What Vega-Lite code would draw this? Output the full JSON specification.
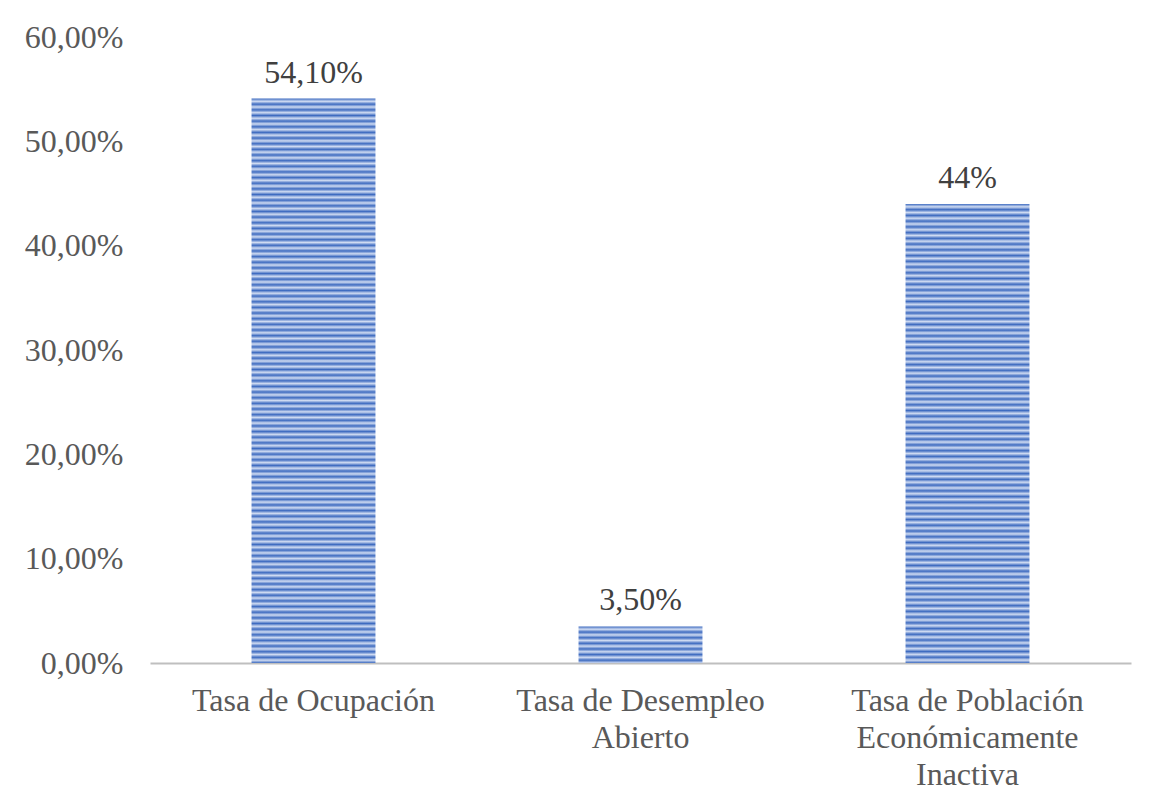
{
  "$schema": "https://vega.github.io/schema/vega-lite/v6.json",
  "autosize": "none",
  "width": 981,
  "height": 626,
  "padding": {"left": 150, "top": 37, "right": 18, "bottom": 137},
  "background": "white",
  "config": {"view": {"stroke": null}, "font": "Liberation Serif"},
  "data": {
    "values": [
      {"cat": "Tasa de Ocupación", "value": 0.541, "label": "54,10%"},
      {"cat": "Tasa de Desempleo Abierto", "value": 0.035, "label": "3,50%"},
      {"cat": "Tasa de Población Económicamente Inactiva", "value": 0.44, "label": "44%"}
    ]
  },
  "encoding": {
    "x": {
      "field": "cat",
      "type": "nominal",
      "sort": null,
      "scale": {"paddingInner": 0.621, "paddingOuter": 0.3105},
      "axis": {
        "title": null,
        "labelAngle": 0,
        "ticks": false,
        "domainColor": "#bfbfbf",
        "domainWidth": 2,
        "labelPadding": 22,
        "labelFont": "Liberation Serif",
        "labelFontSize": 32,
        "labelColor": "#595959",
        "labelLineHeight": 37,
        "labelLimit": 400,
        "labelExpr": "datum.value == 'Tasa de Desempleo Abierto' ? ['Tasa de Desempleo', 'Abierto'] : datum.value == 'Tasa de Población Económicamente Inactiva' ? ['Tasa de Población', 'Económicamente', 'Inactiva'] : datum.label"
      }
    },
    "y": {
      "field": "value",
      "type": "quantitative",
      "scale": {"domain": [0, 0.6], "nice": false},
      "axis": {
        "title": null,
        "domain": false,
        "ticks": false,
        "grid": false,
        "values": [0, 0.1, 0.2, 0.3, 0.4, 0.5, 0.6],
        "labelPadding": 27,
        "labelFont": "Liberation Serif",
        "labelFontSize": 32,
        "labelColor": "#595959",
        "labelExpr": "replace(format(datum.value, '.2%'), '.', ',')"
      }
    }
  },
  "layer": [
    {
      "transform": [{"filter": "datum.cat == 'Tasa de Ocupación'"}],
      "mark": {
        "type": "bar",
        "color": {
          "gradient": "linear", "x1": 0, "y1": 0, "x2": 0, "y2": 1,
          "stops": [
            {"offset":0,"color":"#3e6bc0"},{"offset":0.005,"color":"#cfdbf2"},{"offset":0.01,"color":"#3e6bc0"},{"offset":0.015,"color":"#cfdbf2"},{"offset":0.02,"color":"#3e6bc0"},{"offset":0.025,"color":"#cfdbf2"},{"offset":0.03,"color":"#3e6bc0"},{"offset":0.035,"color":"#cfdbf2"},{"offset":0.04,"color":"#3e6bc0"},{"offset":0.045,"color":"#cfdbf2"},
            {"offset":0.05,"color":"#3e6bc0"},{"offset":0.055,"color":"#cfdbf2"},{"offset":0.06,"color":"#3e6bc0"},{"offset":0.065,"color":"#cfdbf2"},{"offset":0.07,"color":"#3e6bc0"},{"offset":0.075,"color":"#cfdbf2"},{"offset":0.08,"color":"#3e6bc0"},{"offset":0.085,"color":"#cfdbf2"},{"offset":0.09,"color":"#3e6bc0"},{"offset":0.095,"color":"#cfdbf2"},
            {"offset":0.1,"color":"#3e6bc0"},{"offset":0.105,"color":"#cfdbf2"},{"offset":0.11,"color":"#3e6bc0"},{"offset":0.115,"color":"#cfdbf2"},{"offset":0.12,"color":"#3e6bc0"},{"offset":0.125,"color":"#cfdbf2"},{"offset":0.13,"color":"#3e6bc0"},{"offset":0.135,"color":"#cfdbf2"},{"offset":0.14,"color":"#3e6bc0"},{"offset":0.145,"color":"#cfdbf2"},
            {"offset":0.15,"color":"#3e6bc0"},{"offset":0.155,"color":"#cfdbf2"},{"offset":0.16,"color":"#3e6bc0"},{"offset":0.165,"color":"#cfdbf2"},{"offset":0.17,"color":"#3e6bc0"},{"offset":0.175,"color":"#cfdbf2"},{"offset":0.18,"color":"#3e6bc0"},{"offset":0.185,"color":"#cfdbf2"},{"offset":0.19,"color":"#3e6bc0"},{"offset":0.195,"color":"#cfdbf2"},
            {"offset":0.2,"color":"#3e6bc0"},{"offset":0.205,"color":"#cfdbf2"},{"offset":0.21,"color":"#3e6bc0"},{"offset":0.215,"color":"#cfdbf2"},{"offset":0.22,"color":"#3e6bc0"},{"offset":0.225,"color":"#cfdbf2"},{"offset":0.23,"color":"#3e6bc0"},{"offset":0.235,"color":"#cfdbf2"},{"offset":0.24,"color":"#3e6bc0"},{"offset":0.245,"color":"#cfdbf2"},
            {"offset":0.25,"color":"#3e6bc0"},{"offset":0.255,"color":"#cfdbf2"},{"offset":0.26,"color":"#3e6bc0"},{"offset":0.265,"color":"#cfdbf2"},{"offset":0.27,"color":"#3e6bc0"},{"offset":0.275,"color":"#cfdbf2"},{"offset":0.28,"color":"#3e6bc0"},{"offset":0.285,"color":"#cfdbf2"},{"offset":0.29,"color":"#3e6bc0"},{"offset":0.295,"color":"#cfdbf2"},
            {"offset":0.3,"color":"#3e6bc0"},{"offset":0.305,"color":"#cfdbf2"},{"offset":0.31,"color":"#3e6bc0"},{"offset":0.315,"color":"#cfdbf2"},{"offset":0.32,"color":"#3e6bc0"},{"offset":0.325,"color":"#cfdbf2"},{"offset":0.33,"color":"#3e6bc0"},{"offset":0.335,"color":"#cfdbf2"},{"offset":0.34,"color":"#3e6bc0"},{"offset":0.345,"color":"#cfdbf2"},
            {"offset":0.35,"color":"#3e6bc0"},{"offset":0.355,"color":"#cfdbf2"},{"offset":0.36,"color":"#3e6bc0"},{"offset":0.365,"color":"#cfdbf2"},{"offset":0.37,"color":"#3e6bc0"},{"offset":0.375,"color":"#cfdbf2"},{"offset":0.38,"color":"#3e6bc0"},{"offset":0.385,"color":"#cfdbf2"},{"offset":0.39,"color":"#3e6bc0"},{"offset":0.395,"color":"#cfdbf2"},
            {"offset":0.4,"color":"#3e6bc0"},{"offset":0.405,"color":"#cfdbf2"},{"offset":0.41,"color":"#3e6bc0"},{"offset":0.415,"color":"#cfdbf2"},{"offset":0.42,"color":"#3e6bc0"},{"offset":0.425,"color":"#cfdbf2"},{"offset":0.43,"color":"#3e6bc0"},{"offset":0.435,"color":"#cfdbf2"},{"offset":0.44,"color":"#3e6bc0"},{"offset":0.445,"color":"#cfdbf2"},
            {"offset":0.45,"color":"#3e6bc0"},{"offset":0.455,"color":"#cfdbf2"},{"offset":0.46,"color":"#3e6bc0"},{"offset":0.465,"color":"#cfdbf2"},{"offset":0.47,"color":"#3e6bc0"},{"offset":0.475,"color":"#cfdbf2"},{"offset":0.48,"color":"#3e6bc0"},{"offset":0.485,"color":"#cfdbf2"},{"offset":0.49,"color":"#3e6bc0"},{"offset":0.495,"color":"#cfdbf2"},
            {"offset":0.5,"color":"#3e6bc0"},{"offset":0.505,"color":"#cfdbf2"},{"offset":0.51,"color":"#3e6bc0"},{"offset":0.515,"color":"#cfdbf2"},{"offset":0.52,"color":"#3e6bc0"},{"offset":0.525,"color":"#cfdbf2"},{"offset":0.53,"color":"#3e6bc0"},{"offset":0.535,"color":"#cfdbf2"},{"offset":0.54,"color":"#3e6bc0"},{"offset":0.545,"color":"#cfdbf2"},
            {"offset":0.55,"color":"#3e6bc0"},{"offset":0.555,"color":"#cfdbf2"},{"offset":0.56,"color":"#3e6bc0"},{"offset":0.565,"color":"#cfdbf2"},{"offset":0.57,"color":"#3e6bc0"},{"offset":0.575,"color":"#cfdbf2"},{"offset":0.58,"color":"#3e6bc0"},{"offset":0.585,"color":"#cfdbf2"},{"offset":0.59,"color":"#3e6bc0"},{"offset":0.595,"color":"#cfdbf2"},
            {"offset":0.6,"color":"#3e6bc0"},{"offset":0.605,"color":"#cfdbf2"},{"offset":0.61,"color":"#3e6bc0"},{"offset":0.615,"color":"#cfdbf2"},{"offset":0.62,"color":"#3e6bc0"},{"offset":0.625,"color":"#cfdbf2"},{"offset":0.63,"color":"#3e6bc0"},{"offset":0.635,"color":"#cfdbf2"},{"offset":0.64,"color":"#3e6bc0"},{"offset":0.645,"color":"#cfdbf2"},
            {"offset":0.65,"color":"#3e6bc0"},{"offset":0.655,"color":"#cfdbf2"},{"offset":0.66,"color":"#3e6bc0"},{"offset":0.665,"color":"#cfdbf2"},{"offset":0.67,"color":"#3e6bc0"},{"offset":0.675,"color":"#cfdbf2"},{"offset":0.68,"color":"#3e6bc0"},{"offset":0.685,"color":"#cfdbf2"},{"offset":0.69,"color":"#3e6bc0"},{"offset":0.695,"color":"#cfdbf2"},
            {"offset":0.7,"color":"#3e6bc0"},{"offset":0.705,"color":"#cfdbf2"},{"offset":0.71,"color":"#3e6bc0"},{"offset":0.715,"color":"#cfdbf2"},{"offset":0.72,"color":"#3e6bc0"},{"offset":0.725,"color":"#cfdbf2"},{"offset":0.73,"color":"#3e6bc0"},{"offset":0.735,"color":"#cfdbf2"},{"offset":0.74,"color":"#3e6bc0"},{"offset":0.745,"color":"#cfdbf2"},
            {"offset":0.75,"color":"#3e6bc0"},{"offset":0.755,"color":"#cfdbf2"},{"offset":0.76,"color":"#3e6bc0"},{"offset":0.765,"color":"#cfdbf2"},{"offset":0.77,"color":"#3e6bc0"},{"offset":0.775,"color":"#cfdbf2"},{"offset":0.78,"color":"#3e6bc0"},{"offset":0.785,"color":"#cfdbf2"},{"offset":0.79,"color":"#3e6bc0"},{"offset":0.795,"color":"#cfdbf2"},
            {"offset":0.8,"color":"#3e6bc0"},{"offset":0.805,"color":"#cfdbf2"},{"offset":0.81,"color":"#3e6bc0"},{"offset":0.815,"color":"#cfdbf2"},{"offset":0.82,"color":"#3e6bc0"},{"offset":0.825,"color":"#cfdbf2"},{"offset":0.83,"color":"#3e6bc0"},{"offset":0.835,"color":"#cfdbf2"},{"offset":0.84,"color":"#3e6bc0"},{"offset":0.845,"color":"#cfdbf2"},
            {"offset":0.85,"color":"#3e6bc0"},{"offset":0.855,"color":"#cfdbf2"},{"offset":0.86,"color":"#3e6bc0"},{"offset":0.865,"color":"#cfdbf2"},{"offset":0.87,"color":"#3e6bc0"},{"offset":0.875,"color":"#cfdbf2"},{"offset":0.88,"color":"#3e6bc0"},{"offset":0.885,"color":"#cfdbf2"},{"offset":0.89,"color":"#3e6bc0"},{"offset":0.895,"color":"#cfdbf2"},
            {"offset":0.9,"color":"#3e6bc0"},{"offset":0.905,"color":"#cfdbf2"},{"offset":0.91,"color":"#3e6bc0"},{"offset":0.915,"color":"#cfdbf2"},{"offset":0.92,"color":"#3e6bc0"},{"offset":0.925,"color":"#cfdbf2"},{"offset":0.93,"color":"#3e6bc0"},{"offset":0.935,"color":"#cfdbf2"},{"offset":0.94,"color":"#3e6bc0"},{"offset":0.945,"color":"#cfdbf2"},
            {"offset":0.95,"color":"#3e6bc0"},{"offset":0.955,"color":"#cfdbf2"},{"offset":0.96,"color":"#3e6bc0"},{"offset":0.965,"color":"#cfdbf2"},{"offset":0.97,"color":"#3e6bc0"},{"offset":0.975,"color":"#cfdbf2"},{"offset":0.98,"color":"#3e6bc0"},{"offset":0.985,"color":"#cfdbf2"},{"offset":0.99,"color":"#3e6bc0"},{"offset":0.995,"color":"#cfdbf2"},
            {"offset":1,"color":"#3e6bc0"}
          ]
        }
      }
    },
    {
      "transform": [{"filter": "datum.cat == 'Tasa de Desempleo Abierto'"}],
      "mark": {
        "type": "bar",
        "color": {
          "gradient": "linear", "x1": 0, "y1": 0, "x2": 0, "y2": 1,
          "stops": [
            {"offset":0,"color":"#3e6bc0"},{"offset":0.0769,"color":"#cfdbf2"},{"offset":0.1538,"color":"#3e6bc0"},{"offset":0.2308,"color":"#cfdbf2"},{"offset":0.3077,"color":"#3e6bc0"},{"offset":0.3846,"color":"#cfdbf2"},{"offset":0.4615,"color":"#3e6bc0"},{"offset":0.5385,"color":"#cfdbf2"},{"offset":0.6154,"color":"#3e6bc0"},{"offset":0.6923,"color":"#cfdbf2"},{"offset":0.7692,"color":"#3e6bc0"},{"offset":0.8462,"color":"#cfdbf2"},{"offset":0.9231,"color":"#3e6bc0"},{"offset":1,"color":"#cfdbf2"}
          ]
        }
      }
    },
    {
      "transform": [{"filter": "datum.cat == 'Tasa de Población Económicamente Inactiva'"}],
      "mark": {
        "type": "bar",
        "color": {
          "gradient": "linear", "x1": 0, "y1": 0, "x2": 0, "y2": 1,
          "stops": [
            {"offset":0,"color":"#3e6bc0"},{"offset":0.00625,"color":"#cfdbf2"},{"offset":0.0125,"color":"#3e6bc0"},{"offset":0.01875,"color":"#cfdbf2"},{"offset":0.025,"color":"#3e6bc0"},{"offset":0.03125,"color":"#cfdbf2"},{"offset":0.0375,"color":"#3e6bc0"},{"offset":0.04375,"color":"#cfdbf2"},{"offset":0.05,"color":"#3e6bc0"},{"offset":0.05625,"color":"#cfdbf2"},
            {"offset":0.0625,"color":"#3e6bc0"},{"offset":0.06875,"color":"#cfdbf2"},{"offset":0.075,"color":"#3e6bc0"},{"offset":0.08125,"color":"#cfdbf2"},{"offset":0.0875,"color":"#3e6bc0"},{"offset":0.09375,"color":"#cfdbf2"},{"offset":0.1,"color":"#3e6bc0"},{"offset":0.10625,"color":"#cfdbf2"},{"offset":0.1125,"color":"#3e6bc0"},{"offset":0.11875,"color":"#cfdbf2"},
            {"offset":0.125,"color":"#3e6bc0"},{"offset":0.13125,"color":"#cfdbf2"},{"offset":0.1375,"color":"#3e6bc0"},{"offset":0.14375,"color":"#cfdbf2"},{"offset":0.15,"color":"#3e6bc0"},{"offset":0.15625,"color":"#cfdbf2"},{"offset":0.1625,"color":"#3e6bc0"},{"offset":0.16875,"color":"#cfdbf2"},{"offset":0.175,"color":"#3e6bc0"},{"offset":0.18125,"color":"#cfdbf2"},
            {"offset":0.1875,"color":"#3e6bc0"},{"offset":0.19375,"color":"#cfdbf2"},{"offset":0.2,"color":"#3e6bc0"},{"offset":0.20625,"color":"#cfdbf2"},{"offset":0.2125,"color":"#3e6bc0"},{"offset":0.21875,"color":"#cfdbf2"},{"offset":0.225,"color":"#3e6bc0"},{"offset":0.23125,"color":"#cfdbf2"},{"offset":0.2375,"color":"#3e6bc0"},{"offset":0.24375,"color":"#cfdbf2"},
            {"offset":0.25,"color":"#3e6bc0"},{"offset":0.25625,"color":"#cfdbf2"},{"offset":0.2625,"color":"#3e6bc0"},{"offset":0.26875,"color":"#cfdbf2"},{"offset":0.275,"color":"#3e6bc0"},{"offset":0.28125,"color":"#cfdbf2"},{"offset":0.2875,"color":"#3e6bc0"},{"offset":0.29375,"color":"#cfdbf2"},{"offset":0.3,"color":"#3e6bc0"},{"offset":0.30625,"color":"#cfdbf2"},
            {"offset":0.3125,"color":"#3e6bc0"},{"offset":0.31875,"color":"#cfdbf2"},{"offset":0.325,"color":"#3e6bc0"},{"offset":0.33125,"color":"#cfdbf2"},{"offset":0.3375,"color":"#3e6bc0"},{"offset":0.34375,"color":"#cfdbf2"},{"offset":0.35,"color":"#3e6bc0"},{"offset":0.35625,"color":"#cfdbf2"},{"offset":0.3625,"color":"#3e6bc0"},{"offset":0.36875,"color":"#cfdbf2"},
            {"offset":0.375,"color":"#3e6bc0"},{"offset":0.38125,"color":"#cfdbf2"},{"offset":0.3875,"color":"#3e6bc0"},{"offset":0.39375,"color":"#cfdbf2"},{"offset":0.4,"color":"#3e6bc0"},{"offset":0.40625,"color":"#cfdbf2"},{"offset":0.4125,"color":"#3e6bc0"},{"offset":0.41875,"color":"#cfdbf2"},{"offset":0.425,"color":"#3e6bc0"},{"offset":0.43125,"color":"#cfdbf2"},
            {"offset":0.4375,"color":"#3e6bc0"},{"offset":0.44375,"color":"#cfdbf2"},{"offset":0.45,"color":"#3e6bc0"},{"offset":0.45625,"color":"#cfdbf2"},{"offset":0.4625,"color":"#3e6bc0"},{"offset":0.46875,"color":"#cfdbf2"},{"offset":0.475,"color":"#3e6bc0"},{"offset":0.48125,"color":"#cfdbf2"},{"offset":0.4875,"color":"#3e6bc0"},{"offset":0.49375,"color":"#cfdbf2"},
            {"offset":0.5,"color":"#3e6bc0"},{"offset":0.50625,"color":"#cfdbf2"},{"offset":0.5125,"color":"#3e6bc0"},{"offset":0.51875,"color":"#cfdbf2"},{"offset":0.525,"color":"#3e6bc0"},{"offset":0.53125,"color":"#cfdbf2"},{"offset":0.5375,"color":"#3e6bc0"},{"offset":0.54375,"color":"#cfdbf2"},{"offset":0.55,"color":"#3e6bc0"},{"offset":0.55625,"color":"#cfdbf2"},
            {"offset":0.5625,"color":"#3e6bc0"},{"offset":0.56875,"color":"#cfdbf2"},{"offset":0.575,"color":"#3e6bc0"},{"offset":0.58125,"color":"#cfdbf2"},{"offset":0.5875,"color":"#3e6bc0"},{"offset":0.59375,"color":"#cfdbf2"},{"offset":0.6,"color":"#3e6bc0"},{"offset":0.60625,"color":"#cfdbf2"},{"offset":0.6125,"color":"#3e6bc0"},{"offset":0.61875,"color":"#cfdbf2"},
            {"offset":0.625,"color":"#3e6bc0"},{"offset":0.63125,"color":"#cfdbf2"},{"offset":0.6375,"color":"#3e6bc0"},{"offset":0.64375,"color":"#cfdbf2"},{"offset":0.65,"color":"#3e6bc0"},{"offset":0.65625,"color":"#cfdbf2"},{"offset":0.6625,"color":"#3e6bc0"},{"offset":0.66875,"color":"#cfdbf2"},{"offset":0.675,"color":"#3e6bc0"},{"offset":0.68125,"color":"#cfdbf2"},
            {"offset":0.6875,"color":"#3e6bc0"},{"offset":0.69375,"color":"#cfdbf2"},{"offset":0.7,"color":"#3e6bc0"},{"offset":0.70625,"color":"#cfdbf2"},{"offset":0.7125,"color":"#3e6bc0"},{"offset":0.71875,"color":"#cfdbf2"},{"offset":0.725,"color":"#3e6bc0"},{"offset":0.73125,"color":"#cfdbf2"},{"offset":0.7375,"color":"#3e6bc0"},{"offset":0.74375,"color":"#cfdbf2"},
            {"offset":0.75,"color":"#3e6bc0"},{"offset":0.75625,"color":"#cfdbf2"},{"offset":0.7625,"color":"#3e6bc0"},{"offset":0.76875,"color":"#cfdbf2"},{"offset":0.775,"color":"#3e6bc0"},{"offset":0.78125,"color":"#cfdbf2"},{"offset":0.7875,"color":"#3e6bc0"},{"offset":0.79375,"color":"#cfdbf2"},{"offset":0.8,"color":"#3e6bc0"},{"offset":0.80625,"color":"#cfdbf2"},
            {"offset":0.8125,"color":"#3e6bc0"},{"offset":0.81875,"color":"#cfdbf2"},{"offset":0.825,"color":"#3e6bc0"},{"offset":0.83125,"color":"#cfdbf2"},{"offset":0.8375,"color":"#3e6bc0"},{"offset":0.84375,"color":"#cfdbf2"},{"offset":0.85,"color":"#3e6bc0"},{"offset":0.85625,"color":"#cfdbf2"},{"offset":0.8625,"color":"#3e6bc0"},{"offset":0.86875,"color":"#cfdbf2"},
            {"offset":0.875,"color":"#3e6bc0"},{"offset":0.88125,"color":"#cfdbf2"},{"offset":0.8875,"color":"#3e6bc0"},{"offset":0.89375,"color":"#cfdbf2"},{"offset":0.9,"color":"#3e6bc0"},{"offset":0.90625,"color":"#cfdbf2"},{"offset":0.9125,"color":"#3e6bc0"},{"offset":0.91875,"color":"#cfdbf2"},{"offset":0.925,"color":"#3e6bc0"},{"offset":0.93125,"color":"#cfdbf2"},
            {"offset":0.9375,"color":"#3e6bc0"},{"offset":0.94375,"color":"#cfdbf2"},{"offset":0.95,"color":"#3e6bc0"},{"offset":0.95625,"color":"#cfdbf2"},{"offset":0.9625,"color":"#3e6bc0"},{"offset":0.96875,"color":"#cfdbf2"},{"offset":0.975,"color":"#3e6bc0"},{"offset":0.98125,"color":"#cfdbf2"},{"offset":0.9875,"color":"#3e6bc0"},{"offset":0.99375,"color":"#cfdbf2"},
            {"offset":1,"color":"#3e6bc0"}
          ]
        }
      }
    },
    {
      "mark": {
        "type": "text",
        "font": "Liberation Serif",
        "fontSize": 32,
        "color": "#404040",
        "baseline": "alphabetic",
        "dy": -16
      },
      "encoding": {"text": {"field": "label", "type": "nominal"}}
    }
  ]
}
